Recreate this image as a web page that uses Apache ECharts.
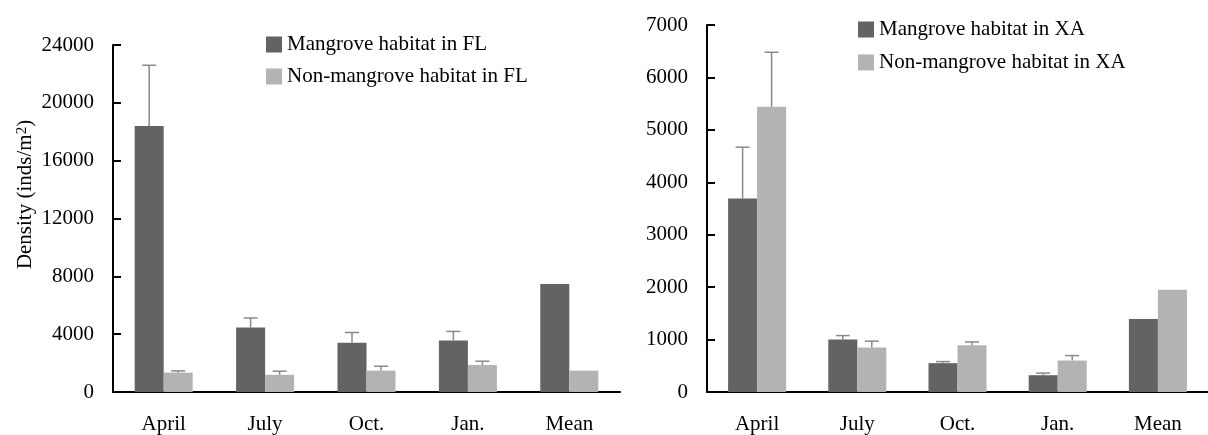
<!DOCTYPE html>
<html>
<head>
<meta charset="utf-8">
<script src="https://cdn.jsdelivr.net/npm/echarts@6/dist/echarts.min.js"></script>
<style>
  html, body { margin: 0; padding: 0; background: #fff; }
  #chart { width: 1208px; height: 435px; }
</style>
</head>
<body>
<div id="chart"></div>
<script>
var months = ['April', 'July', 'Oct.', 'Jan.', 'Mean'];
// FL site
var flMangrove = [18400, 4460, 3400, 3570, 7470];
var flMangroveErr = [4200, 660, 715, 620, 0];
var flNon = [1340, 1190, 1480, 1870, 1480];
var flNonErr = [120, 250, 300, 260, 0];
// XA site
var xaMangrove = [3690, 1000, 550, 320, 1390];
var xaMangroveErr = [980, 76, 30, 40, 0];
var xaNon = [5440, 850, 890, 600, 1950];
var xaNonErr = [1040, 120, 65, 95, 0];

var font = 'Liberation Serif';
var fs = 21;
var dark = '#636363';
var light = '#b3b3b3';
var errColor = '#8a8a8a';
var barW = 29;

function errData(vals, errs) {
    return vals.map(function (v, i) { return [i, v, errs[i]]; });
}

function errRender(offset) {
    return function (params, api) {
        var e = api.value(2);
        if (!e) return null;
        var base = api.coord([api.value(0), api.value(1)]);
        var top = api.coord([api.value(0), api.value(1) + e]);
        var x = base[0] + offset;
        var st = { stroke: errColor, lineWidth: 1.5 };
        return {
            type: 'group',
            children: [
                { type: 'line', shape: { x1: x, y1: base[1], x2: x, y2: top[1] }, style: st },
                { type: 'line', shape: { x1: x - 7, y1: top[1], x2: x + 7, y2: top[1] }, style: st }
            ]
        };
    };
}

function xAxis(grid) {
    return {
        type: 'category',
        gridIndex: grid,
        data: months,
        axisLine: { lineStyle: { color: '#000', width: 2 } },
        axisTick: { inside: true, length: 7, lineStyle: { color: '#000', width: 2 } },
        axisLabel: { color: '#000', fontFamily: font, fontSize: fs, margin: 22 }
    };
}

function yAxis(grid, max, step) {
    return {
        type: 'value',
        gridIndex: grid,
        min: 0,
        max: max,
        interval: step,
        splitLine: { show: false },
        axisLine: { show: true, lineStyle: { color: '#000', width: 2 } },
        axisTick: { show: true, inside: true, length: 8, lineStyle: { color: '#000', width: 2 } },
        axisLabel: {
            color: '#000', fontFamily: font, fontSize: fs, margin: 19,
            formatter: function (v) { return String(v); }
        }
    };
}

var legendText = { color: '#000', fontFamily: font, fontSize: fs };

var chart = echarts.init(document.getElementById('chart'));
var yLeft = yAxis(0, 24000, 4000);
yLeft.name = 'Density (inds/m{sup|2})';
yLeft.nameLocation = 'middle';
yLeft.nameGap = 77;
yLeft.nameTextStyle = {
    color: '#000', fontFamily: font, fontSize: fs,
    padding: [0, 0, 0, 48],
    rich: { sup: { fontSize: 15, fontFamily: font, color: '#000', verticalAlign: 'top', lineHeight: 10 } }
};

chart.setOption({
    animation: false,
    backgroundColor: '#fff',
    grid: [
        { left: 113, top: 45, width: 507, height: 348 },
        { left: 707, top: 25, width: 508, height: 367 }
    ],
    legend: [
        {
            orient: 'vertical', left: 266, top: 34, itemGap: 11, padding: 0,
            itemWidth: 16, itemHeight: 16, icon: 'rect',
            textStyle: legendText,
            data: ['Mangrove habitat in FL', 'Non-mangrove habitat in FL']
        },
        {
            orient: 'vertical', left: 858, top: 19, itemGap: 12, padding: 0,
            itemWidth: 16, itemHeight: 16, icon: 'rect',
            textStyle: legendText,
            data: ['Mangrove habitat in XA', 'Non-mangrove habitat in XA']
        }
    ],
    xAxis: [xAxis(0), xAxis(1)],
    yAxis: [yLeft, yAxis(1, 7000, 1000)],
    series: [
        { name: 'Mangrove habitat in FL', type: 'bar', xAxisIndex: 0, yAxisIndex: 0, data: flMangrove,
          barWidth: barW, barGap: '0%', itemStyle: { color: dark } },
        { name: 'Non-mangrove habitat in FL', type: 'bar', xAxisIndex: 0, yAxisIndex: 0, data: flNon,
          barWidth: barW, barGap: '0%', itemStyle: { color: light } },
        { name: 'Mangrove habitat in XA', type: 'bar', xAxisIndex: 1, yAxisIndex: 1, data: xaMangrove,
          barWidth: barW, barGap: '0%', itemStyle: { color: dark } },
        { name: 'Non-mangrove habitat in XA', type: 'bar', xAxisIndex: 1, yAxisIndex: 1, data: xaNon,
          barWidth: barW, barGap: '0%', itemStyle: { color: light } },
        { type: 'custom', xAxisIndex: 0, yAxisIndex: 0, renderItem: errRender(-barW / 2),
          data: errData(flMangrove, flMangroveErr), encode: { x: 0, y: 1 }, z: 5 },
        { type: 'custom', xAxisIndex: 0, yAxisIndex: 0, renderItem: errRender(barW / 2),
          data: errData(flNon, flNonErr), encode: { x: 0, y: 1 }, z: 5 },
        { type: 'custom', xAxisIndex: 1, yAxisIndex: 1, renderItem: errRender(-barW / 2),
          data: errData(xaMangrove, xaMangroveErr), encode: { x: 0, y: 1 }, z: 5 },
        { type: 'custom', xAxisIndex: 1, yAxisIndex: 1, renderItem: errRender(barW / 2),
          data: errData(xaNon, xaNonErr), encode: { x: 0, y: 1 }, z: 5 }
    ]
});
</script>
</body>
</html>
